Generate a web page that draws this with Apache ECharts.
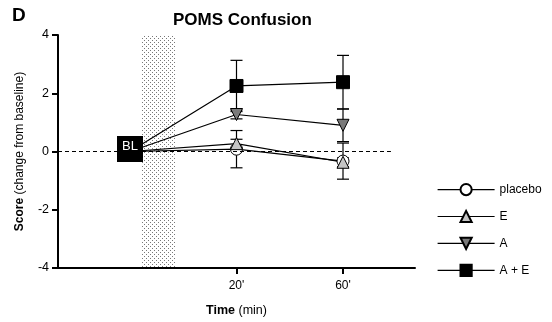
<!DOCTYPE html>
<html>
<head>
<meta charset="utf-8">
<script src="https://cdn.jsdelivr.net/npm/echarts@6/dist/echarts.min.js"></script>
<style>
  html, body { margin: 0; padding: 0; background: #fff; }
  #main { width: 552px; height: 322px; }
</style>
</head>
<body>
<div id="main"></div>
<script>
// x positions: 0 = baseline (BL), 1 = 20 min, 2 = 60 min
const timePos = [0, 1, 2];
const timeLabels = ['', "20'", "60'"];

const placebo = [0, 0.08, -0.33];
const placeboErr = [0, 0.64, 0.62];
const drugE = [0, 0.27, -0.37];
const drugEErr = [0, 0.15, 0.15];
const drugA = [0, 1.27, 0.9];
const drugAErr = [0, 0.15, 0.56];
const drugAE = [0, 2.25, 2.38];
const drugAEErr = [0, 0.88, 0.92];

const fontFamily = 'Liberation Sans, Arial, sans-serif';

// dotted fill for the administration window
const dots = document.createElement('canvas');
dots.width = 4;
dots.height = 4;
const dctx = dots.getContext('2d');
dctx.fillStyle = '#777';
dctx.fillRect(0, 0, 1, 1);
dctx.fillRect(2, 2, 1, 1);

function toPoints(vals) {
    return timePos.map(function (x, i) {
        if (i === 0) return { value: [x, vals[i]], symbol: 'none' };
        return [x, vals[i]];
    });
}

function toErr(vals, errs) {
    const out = [];
    timePos.forEach(function (x, i) {
        if (i > 0) out.push([x, vals[i], errs[i]]);
    });
    return out;
}

function errSeries(vals, errs) {
    return {
        type: 'custom',
        z: 1,
        silent: true,
        data: toErr(vals, errs),
        renderItem: function (params, api) {
            const x = api.value(0), y = api.value(1), e = api.value(2);
            const top = api.coord([x, y + e]);
            const bot = api.coord([x, y - e]);
            const w = 6;
            const st = { stroke: '#000', lineWidth: 1.2 };
            return {
                type: 'group',
                children: [
                    { type: 'line', shape: { x1: top[0], y1: top[1], x2: bot[0], y2: bot[1] }, style: st },
                    { type: 'line', shape: { x1: top[0] - w, y1: top[1], x2: top[0] + w, y2: top[1] }, style: st },
                    { type: 'line', shape: { x1: bot[0] - w, y1: bot[1], x2: bot[0] + w, y2: bot[1] }, style: st }
                ]
            };
        }
    };
}

function lineSeries(name, vals, symbol, size, fill) {
    return {
        name: name,
        type: 'line',
        z: 3,
        data: toPoints(vals),
        symbol: symbol,
        symbolSize: size,
        showAllSymbol: true,
        lineStyle: { color: '#000', width: 1.2 },
        itemStyle: { color: fill, borderColor: '#000', borderWidth: 1, opacity: 1 },
        emphasis: { disabled: true },
        animation: false
    };
}

const chart = echarts.init(document.getElementById('main'));
chart.setOption({
    animation: false,
    textStyle: { fontFamily: fontFamily, color: '#000' },
    title: {
        text: 'POMS Confusion',
        left: 168,
        top: 7,
        textStyle: { fontSize: 17, fontWeight: 'bold', color: '#000', fontFamily: fontFamily }
    },
    graphic: [{
        type: 'text',
        left: 12,
        top: 6,
        style: { text: 'D', fontSize: 19, fontWeight: 'bold', fill: '#000', fontFamily: fontFamily }
    }],
    legend: {
        orient: 'vertical',
        left: 432,
        top: 178,
        itemWidth: 57,
        itemHeight: 14,
        itemGap: 13.7,
        lineStyle: { width: 1.2 },
        textStyle: { fontSize: 12, color: '#000', fontFamily: fontFamily },
        data: ['placebo', 'E', 'A', 'A + E']
    },
    grid: { left: 58, right: 137, top: 35, bottom: 50, containLabel: false },
    xAxis: {
        type: 'value',
        min: -0.676,
        max: 2.676,
        splitLine: { show: false },
        axisLine: { onZero: false, lineStyle: { color: '#000', width: 2 } },
        axisTick: { customValues: [1, 2], length: 6, lineStyle: { color: '#000', width: 2 } },
        axisLabel: {
            customValues: [1, 2],
            formatter: function (v) { return timeLabels[Math.round(v)]; },
            fontSize: 12,
            color: '#000',
            margin: 12
        },
        name: '{b|Time} (min)',
        nameLocation: 'middle',
        nameGap: 36,
        nameTextStyle: {
            fontSize: 12.5,
            color: '#000',
            rich: { b: { fontSize: 12.5, fontWeight: 'bold', color: '#000' } }
        }
    },
    yAxis: {
        type: 'value',
        min: -4,
        max: 4,
        interval: 2,
        splitLine: { show: false },
        axisLine: { show: true, onZero: false, lineStyle: { color: '#000', width: 2 } },
        axisTick: { show: true, length: 6, lineStyle: { color: '#000', width: 2 } },
        axisLabel: { fontSize: 12.5, color: '#000', margin: 9 },
        name: '{b|Score} (change from baseline)',
        nameLocation: 'middle',
        nameGap: 32,
        nameTextStyle: {
            fontSize: 12,
            color: '#000',
            rich: { b: { fontSize: 12, fontWeight: 'bold', color: '#000' } }
        }
    },
    series: [
        {
            type: 'line',
            z: 0,
            data: [],
            markArea: {
                silent: true,
                itemStyle: { color: { image: dots, repeat: 'repeat' } },
                data: [[{ xAxis: 0.113, yAxis: 4.1 }, { xAxis: 0.423, yAxis: -4 }]]
            },
            markLine: {
                silent: true,
                symbol: 'none',
                label: { show: false },
                lineStyle: { color: '#000', width: 1, type: [4, 3] },
                data: [[{ coord: [-0.676, 0] }, { coord: [2.45, 0] }]]
            }
        },
        errSeries(placebo, placeboErr),
        errSeries(drugE, drugEErr),
        errSeries(drugA, drugAErr),
        errSeries(drugAE, drugAEErr),
        lineSeries('placebo', placebo, 'circle', 12, '#fff'),
        lineSeries('E', drugE, 'triangle', 12, '#c4c4c4'),
        lineSeries('A', drugA, 'path://M0,0 L10,0 L5,10 Z', 12, '#7a7a7a'),
        lineSeries('A + E', drugAE, 'rect', 13, '#000'),
        {
            type: 'scatter',
            z: 6,
            data: [[0, 0]],
            symbol: 'rect',
            symbolSize: 26,
            symbolOffset: [0, -2.5],
            itemStyle: { color: '#000', opacity: 1 },
            label: {
                show: true,
                position: 'inside',
                offset: [0, -2.5],
                formatter: 'BL',
                color: '#fff',
                fontSize: 13
            },
            emphasis: { disabled: true }
        }
    ]
});
</script>
</body>
</html>
